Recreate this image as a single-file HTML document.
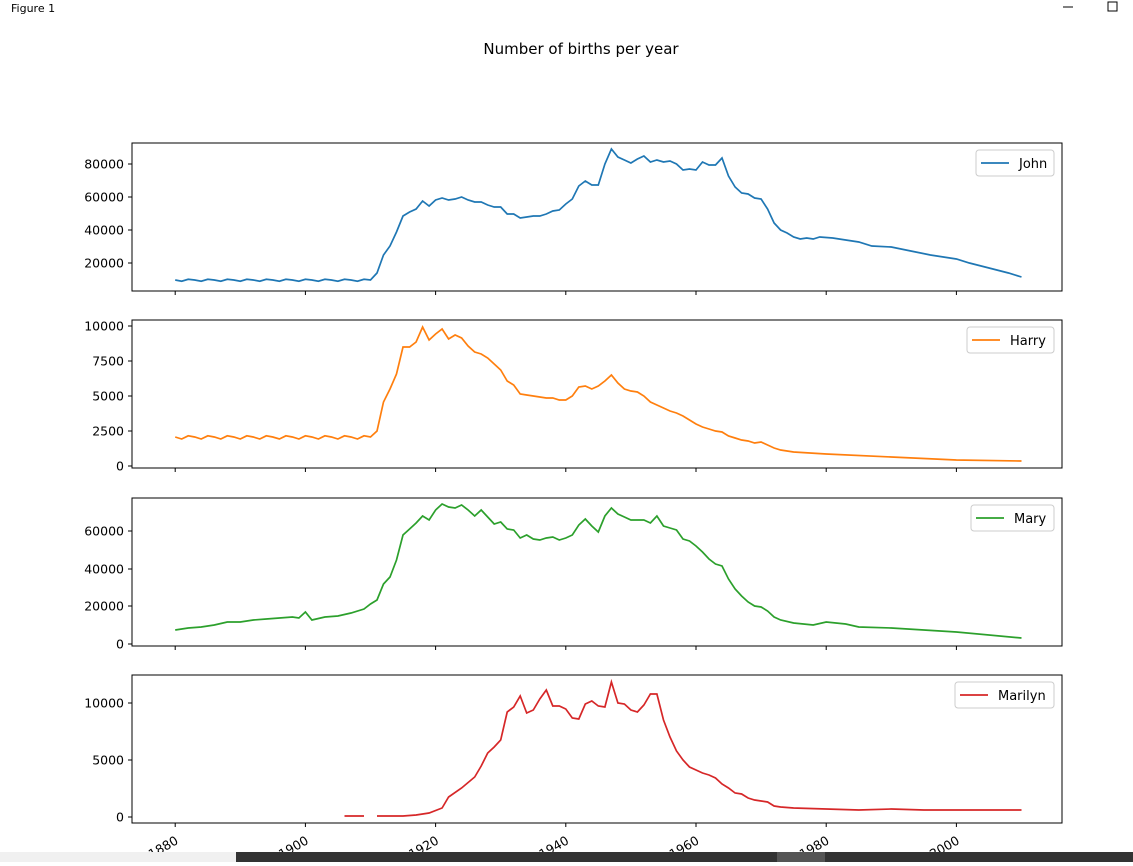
<!DOCTYPE html>
<html><head><meta charset="utf-8"><style>
body{margin:0;width:1133px;height:862px;overflow:hidden;background:#fff;font-family:"DejaVu Sans","Liberation Sans",sans-serif}
svg text{font-family:"DejaVu Sans","Liberation Sans",sans-serif}
</style></head><body>
<svg id="s" width="1133" height="862" xmlns="http://www.w3.org/2000/svg">
<rect width="1133" height="862" fill="#fff"/>
<text x="11" y="12" font-size="11" fill="#000">Figure 1</text>
<line x1="1063" x2="1073" y1="7" y2="7" stroke="#000"/>
<rect x="1108" y="2" width="9" height="9" fill="none" stroke="#000"/>
<text x="581" y="54" font-size="15" text-anchor="middle">Number of births per year</text>
<g id="g"></g>
<rect x="0" y="852" width="236" height="10" fill="#f0f0f0"/>
<rect x="236" y="852" width="897" height="10" fill="#333"/>
<rect x="777" y="852" width="48" height="10" fill="#555"/>
</svg>
<script>
const X=y=>175.2+(y-1880)*6.51;
function noisy(a,b,base,amp){const o=[];for(let y=a;y<=b;y++)o.push([y,base+(y%3==0?amp:y%3==1?-amp*0.6:0)]);return o;}
const john=[...noisy(1880,1910,280,1.2),[1911,273],[1912,255],[1913,246],[1914,232],[1915,216],[1916,212],[1917,209],[1918,201],[1919,206],[1920,200],[1921,198],[1922,200],[1923,199],[1924,197],[1925,200],[1926,202],[1927,202],[1928,205],[1929,207],[1930,207],[1931,214],[1932,214],[1933,218],[1934,217],[1935,216],[1936,216],[1937,214],[1938,211],[1939,210],[1940,204],[1941,199],[1942,186],[1943,181],[1944,185],[1945,185],[1946,164],[1947,149],[1948,157],[1949,160],[1950,163],[1951,159],[1952,156],[1953,162],[1954,160],[1955,162],[1956,161],[1957,164],[1958,170],[1959,169],[1960,170],[1961,162],[1962,165],[1963,165],[1964,158],[1965,176],[1966,187],[1967,193],[1968,194],[1969,198],[1970,199],[1971,209],[1972,223],[1973,230],[1974,233],[1975,237],[1976,239],[1977,238],[1978,239],[1979,237],[1981,238],[1983,240],[1985,242],[1987,246],[1990,247],[1993,251],[1996,255],[2000,259],[2002,263],[2005,268],[2008,273],[2010,277]];
const harry=[...noisy(1880,1910,437,2),[1911,431],[1912,402],[1913,389],[1914,374],[1915,347],[1916,347],[1917,342],[1918,327],[1919,340],[1920,334],[1921,329],[1922,339],[1923,335],[1924,338],[1925,346],[1926,352],[1927,354],[1928,358],[1929,364],[1930,370],[1931,381],[1932,385],[1933,394],[1934,395],[1935,396],[1936,397],[1937,398],[1938,398],[1939,400],[1940,400],[1941,396],[1942,387],[1943,386],[1944,389],[1945,386],[1946,381],[1947,375],[1948,383],[1949,389],[1950,391],[1951,392],[1952,396],[1953,402],[1954,405],[1955,408],[1956,411],[1957,413],[1958,416],[1959,420],[1960,424],[1961,427],[1962,429],[1963,431],[1964,432],[1965,436],[1966,438],[1967,440],[1968,441],[1969,443],[1970,442],[1971,445],[1972,448],[1973,450],[1974,451],[1975,452],[1980,454],[1990,457],[2000,460],[2010,461]];
const mary=[[1880,630],[1882,628],[1884,627],[1886,625],[1888,622],[1890,622],[1892,620],[1894,619],[1896,618],[1898,617],[1899,618],[1900,612],[1901,620],[1903,617],[1905,616],[1907,613],[1909,609],[1910,604],[1911,600],[1912,584],[1913,577],[1914,560],[1915,535],[1916,529],[1917,523],[1918,516],[1919,520],[1920,510],[1921,504],[1922,507],[1923,508],[1924,505],[1925,510],[1926,516],[1927,510],[1928,517],[1929,524],[1930,522],[1931,529],[1932,530],[1933,538],[1934,535],[1935,539],[1936,540],[1937,538],[1938,537],[1939,540],[1940,538],[1941,535],[1942,525],[1943,519],[1944,526],[1945,532],[1946,516],[1947,508],[1948,514],[1949,517],[1950,520],[1951,520],[1952,520],[1953,523],[1954,516],[1955,526],[1956,528],[1957,530],[1958,539],[1959,541],[1960,546],[1961,552],[1962,559],[1963,564],[1964,566],[1965,579],[1966,589],[1967,596],[1968,602],[1969,606],[1970,607],[1971,611],[1972,617],[1973,620],[1975,623],[1978,625],[1980,622],[1983,624],[1985,627],[1990,628],[2000,632],[2010,638]];
const mar1=[[1906,816],[1909,816]];
const mar2=[[1911,816],[1915,816],[1917,815],[1919,813],[1921,808],[1922,797],[1924,788],[1926,777],[1927,766],[1928,753],[1929,747],[1930,740],[1931,712],[1932,707],[1933,696],[1934,713],[1935,710],[1936,699],[1937,690],[1938,706],[1939,706],[1940,709],[1941,718],[1942,719],[1943,704],[1944,701],[1945,706],[1946,707],[1947,682],[1948,703],[1949,704],[1950,710],[1951,712],[1952,705],[1953,694],[1954,694],[1955,720],[1956,737],[1957,751],[1958,760],[1959,767],[1960,770],[1961,773],[1962,775],[1963,778],[1964,784],[1965,788],[1966,793],[1967,794],[1968,798],[1969,800],[1970,801],[1971,802],[1972,806],[1973,807],[1975,808],[1980,809],[1985,810],[1990,809],[1995,810],[2000,810],[2005,810],[2010,810]];
const panels=[
 {t:143,c:"#1f77b4",name:"John",lx:976,lines:[john],ticks:[[80000,164],[60000,197],[40000,230],[20000,263]]},
 {t:320,c:"#ff7f0e",name:"Harry",lx:967,lines:[harry],ticks:[[10000,326],[7500,361],[5000,396],[2500,431],[0,466]]},
 {t:498,c:"#2ca02c",name:"Mary",lx:971,lines:[mary],ticks:[[60000,531],[40000,569],[20000,606],[0,644]]},
 {t:675,c:"#d62728",name:"Marilyn",lx:955,lines:[mar1,mar2],ticks:[[10000,703],[5000,760],[0,817]]}];
let h="";
panels.forEach((p,i)=>{
 const b=p.t+148;
 p.lines.forEach(l=>{h+=`<polyline fill="none" stroke="${p.c}" stroke-width="1.7" points="${l.map(([y,v])=>X(y).toFixed(1)+","+v).join(" ")}"/>`;});
 h+=`<rect x="132" y="${p.t}" width="930" height="148" fill="none" stroke="#000" stroke-width="1"/>`;
 p.ticks.forEach(([v,y])=>{h+=`<line x1="128" x2="132" y1="${y}" y2="${y}" stroke="#000"/><text x="124" y="${y+4.5}" font-size="12.5" text-anchor="end">${v}</text>`;});
 for(let yr=1880;yr<=2000;yr+=20){const x=X(yr);h+=`<line x1="${x}" x2="${x}" y1="${b}" y2="${b+4}" stroke="#000"/>`;
  if(i==3)h+=`<text transform="translate(${x+4},${b+20}) rotate(-30)" font-size="12.5" text-anchor="end">${yr}</text>`;}
 h+=`<rect x="${p.lx}" y="${p.t+7}" width="${1054-p.lx}" height="26" rx="3" fill="#fff" stroke="#ccc"/>`;
 h+=`<line x1="${p.lx+5}" x2="${p.lx+33}" y1="${p.t+20}" y2="${p.t+20}" stroke="${p.c}" stroke-width="1.7"/>`;
 h+=`<text x="${p.lx+43}" y="${p.t+25}" font-size="13">${p.name}</text>`;
});
document.getElementById("g").innerHTML=h;
</script>
</body></html>
